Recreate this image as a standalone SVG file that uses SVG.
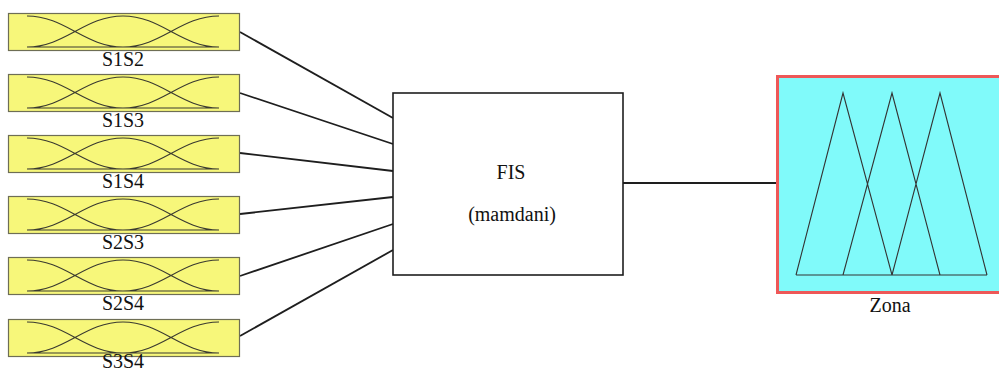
<svg xmlns="http://www.w3.org/2000/svg" xmlns:xlink="http://www.w3.org/1999/xlink" width="999" height="373" viewBox="0 0 999 373">
<style>
  .inbox{fill:#f7f77a;stroke:#6e6e55;stroke-width:1.2}
  .mf{fill:none;stroke:#3a3a30;stroke-width:1.1}
  .lbl{font-family:"Liberation Serif","Times New Roman",serif;font-size:20px;fill:#111;text-anchor:middle}
  .conn{fill:none;stroke:#1e1e1e;stroke-width:1.8}
  .fis{fill:#fff;stroke:#1e1e1e;stroke-width:1.6}
  .out{fill:#80fafa;stroke:#ee5858;stroke-width:3}
  .tri{fill:none;stroke:#333;stroke-width:1.1}
</style>
<defs>
  <g id="mfs">
    <rect class="inbox" x="8.5" y="0.5" width="231" height="37"/>
    <path class="mf" d="M27,3 C65,3 85,34 123,34 M27,34 C65,34 85,3 123,3 C161,3 181,34 219,34 M123,34 C161,34 181,3 219,3 M27,34 L219,34"/>
  </g>
</defs>
<g id="connectors">
  <line class="conn" x1="240" y1="32" x2="393" y2="118"/>
  <line class="conn" x1="240" y1="93" x2="393" y2="144"/>
  <line class="conn" x1="240" y1="153" x2="393" y2="171"/>
  <line class="conn" x1="240" y1="214" x2="393" y2="197"/>
  <line class="conn" x1="240" y1="276" x2="393" y2="224"/>
  <line class="conn" x1="240" y1="336" x2="393" y2="250"/>
  <line class="conn" x1="623" y1="183" x2="777" y2="183" stroke-width="1.5"/>
</g>
<g id="S1S2"><use xlink:href="#mfs" href="#mfs" transform="translate(0,13)"/><text class="lbl" x="123" y="66">S1S2</text></g>
<g id="S1S3"><use xlink:href="#mfs" href="#mfs" transform="translate(0,74)"/><text class="lbl" x="123" y="127">S1S3</text></g>
<g id="S1S4"><use xlink:href="#mfs" href="#mfs" transform="translate(0,135)"/><text class="lbl" x="123" y="188">S1S4</text></g>
<g id="S2S3"><use xlink:href="#mfs" href="#mfs" transform="translate(0,196)"/><text class="lbl" x="123" y="249">S2S3</text></g>
<g id="S2S4"><use xlink:href="#mfs" href="#mfs" transform="translate(0,257)"/><text class="lbl" x="123" y="310">S2S4</text></g>
<g id="S3S4"><use xlink:href="#mfs" href="#mfs" transform="translate(0,319)"/><text class="lbl" x="123" y="368">S3S4</text></g>
<g id="FIS">
  <rect class="fis" x="393" y="93" width="230" height="182"/>
  <text class="lbl" x="511" y="179">FIS</text>
  <text class="lbl" x="512" y="221">(mamdani)</text>
</g>
<g id="Zona">
  <rect class="out" x="777.5" y="76.5" width="240" height="216"/>
  <path class="tri" d="M796,275 L843,93 L892,275 M843,275 L892,93 L940,275 M892,275 L940,93 L987,275 M796,275 L987,275"/>
  <text class="lbl" x="890" y="312">Zona</text>
</g>
</svg>
